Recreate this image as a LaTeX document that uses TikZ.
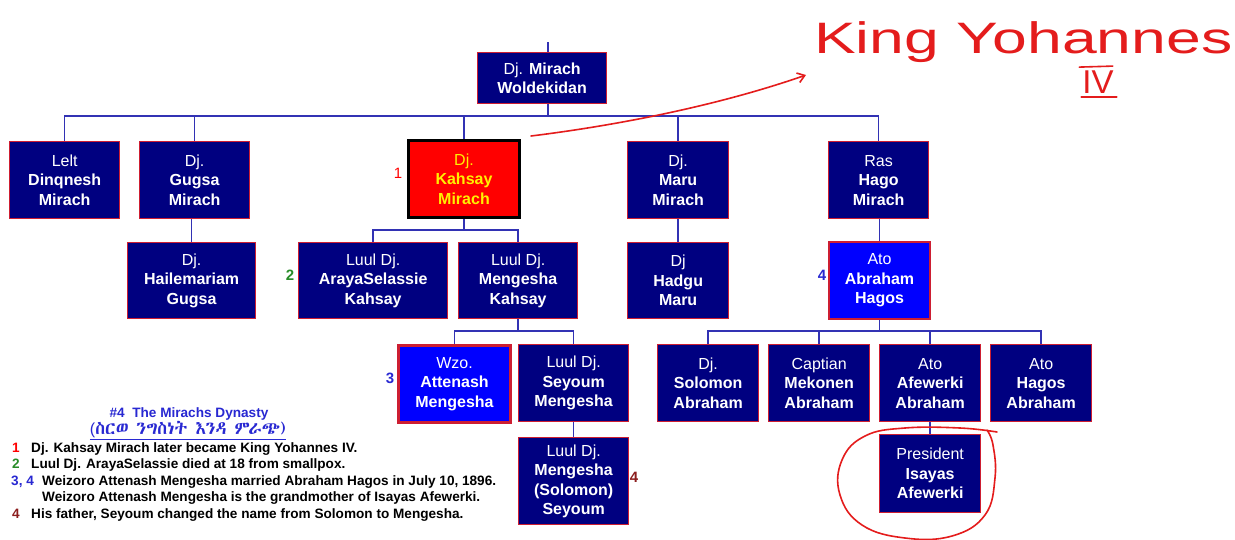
\documentclass[tikz,border=0pt]{standalone}
\usepackage{fontspec}
\setmainfont{Liberation Sans}
\usetikzlibrary{arrows.meta,calc}
\newfontfamily\handfont[FakeStretch=1.42]{Liberation Sans}
\IfFontExistsTF{Abyssinica SIL}{\newfontfamily\ethfont{Abyssinica SIL}}{%
  \IfFontExistsTF{Noto Sans Ethiopic}{\newfontfamily\ethfont{Noto Sans Ethiopic}}{%
    \newfontfamily\ethfont{FreeSerif.otf}}}
\definecolor{navy}{RGB}{0,0,128}
\definecolor{boxred}{RGB}{205,30,50}
\definecolor{lineblue}{RGB}{50,50,180}
\definecolor{kred}{RGB}{255,0,0}
\definecolor{kyellow}{RGB}{255,240,0}
\definecolor{bblue}{RGB}{0,0,255}
\definecolor{pen}{RGB}{228,28,28}
\definecolor{ngreen}{RGB}{40,140,40}
\definecolor{nblue}{RGB}{40,40,210}
\definecolor{ndark}{RGB}{140,30,30}
\newcommand\bx[3]{#1\\\textbf{#2}\\\textbf{#3}}
\tikzset{
  pbox/.style={draw=boxred, line width=1.3pt, fill=navy, text=white, align=center,
    font=\fontsize{16}{19.5}\selectfont, inner sep=0pt, anchor=north west},
  kbox/.style={pbox, fill=kred, draw=black, line width=3pt, text=kyellow},
  bbox/.style={pbox, fill=bblue, line width=2pt},
  sz/.style 2 args={minimum width=#1, minimum height=#2},
  conn/.style={draw=lineblue, line width=1.4pt},
  leg/.style={anchor=base west, inner sep=0pt, font=\fontsize{13.6}{15}\selectfont\bfseries},
  sidenum/.style={inner sep=0pt, font=\fontsize{15}{15}\selectfont\bfseries},
  penline/.style={draw=pen, line width=1.6pt, line cap=round}
}
\begin{document}
\begin{tikzpicture}[x=1pt,y=-1pt]
\fill[white] (0,0) rectangle (1235,539);
\useasboundingbox (0,0) rectangle (1235,539);
% boxes
\node[pbox, sz={129}{51}] (root) at (477,52) {Dj. \textbf{Mirach}\\\textbf{Woldekidan}};
\node[pbox, sz={110}{77}] (lelt) at (9,141) {\bx{Lelt}{Dinqnesh}{Mirach}};
\node[pbox, sz={110}{77}] (gugsa) at (139,141) {\bx{Dj.}{Gugsa}{Mirach}};
\node[kbox, sz={111}{77}] (kahsay) at (407,139) {\bx{Dj.}{Kahsay}{Mirach}};
\node[pbox, sz={101}{77}] (maru) at (627,141) {\bx{Dj.}{Maru}{Mirach}};
\node[pbox, sz={100}{77}] (hago) at (828,141) {\bx{Ras}{Hago}{Mirach}};
\node[pbox, sz={128}{76}] (haile) at (127,242) {\bx{Dj.}{Hailemariam}{Gugsa}};
\node[pbox, sz={149}{76}] (araya) at (298,242) {\bx{Luul Dj.}{ArayaSelassie}{Kahsay}};
\node[pbox, sz={119}{76}] (mengK) at (458,242) {\bx{Luul Dj.}{Mengesha}{Kahsay}};
\node[pbox, sz={101}{76}] (hadgu) at (627,242) {\bx{Dj}{Hadgu}{Maru}};
\node[bbox, sz={101}{77}] (abraham) at (828,241) {\bx{Ato}{Abraham}{Hagos}};
\node[bbox, line width=3pt, sz={112}{77}] (atten) at (397,344) {\bx{Wzo.}{Attenash}{Mengesha}};
\node[pbox, sz={110}{77}] (seyoum) at (518,344) {\bx{Luul Dj.}{Seyoum}{Mengesha}};
\node[pbox, sz={101}{77}] (solomon) at (657,344) {\bx{Dj.}{Solomon}{Abraham}};
\node[pbox, sz={101}{77}] (mekonen) at (768,344) {\bx{Captian}{Mekonen}{Abraham}};
\node[pbox, sz={101}{77}] (afewerki) at (879,344) {\bx{Ato}{Afewerki}{Abraham}};
\node[pbox, sz={101}{77}] (hagosA) at (990,344) {\bx{Ato}{Hagos}{Abraham}};
\node[pbox, sz={110}{87}] (mengS) at (518,437) {Luul Dj.\\\textbf{Mengesha}\\\textbf{(Solomon)}\\\textbf{Seyoum}};
\node[pbox, sz={101}{78}] (pres) at (879,434) {\bx{President}{Isayas}{Afewerki}};
% connectors
\coordinate (rtop) at (548,42);
\coordinate (y1) at (0,116);
\coordinate (y2) at (0,230);
\coordinate (y3) at (0,331);
\draw[conn] (rtop) -- (rtop |- root.north);
\draw[conn] (rtop |- root.south) -- (rtop |- y1);
\draw[conn] (lelt.north) |- (hago.north |- y1) -- (hago.north);
\foreach \n in {gugsa,kahsay,maru} \draw[conn] (\n.north) -- (\n.north |- y1);
\draw[conn] (haile.north) -- (haile.north |- gugsa.south);
\draw[conn] (kahsay.south) -- (kahsay.south |- y2);
\draw[conn] (araya.north) |- (mengK.north |- y2) -- (mengK.north);
\draw[conn] (maru.south) -- (hadgu.north);
\draw[conn] (abraham.north) -- (abraham.north |- hago.south);
\draw[conn] (mengK.south) -- (mengK.south |- y3);
\draw[conn] (atten.north) |- (seyoum.north |- y3) -- (seyoum.north);
\draw[conn] (abraham.south) -- (abraham.south |- y3);
\draw[conn] (solomon.north) |- (hagosA.north |- y3) -- (hagosA.north);
\foreach \n in {mekonen,afewerki} \draw[conn] (\n.north) -- (\n.north |- y3);
\draw[conn] (seyoum.south) -- (mengS.north);
\draw[conn] (afewerki.south) -- (pres.north);
% side numbers
\node[sidenum, text=kred, font=\fontsize{15}{15}\selectfont] (m1) at (398,173) {1};
\node[sidenum, text=ngreen] (m2) at (290,275) {2};
\node[sidenum, text=nblue] (m4a) at (822,275) {4};
\node[sidenum, text=nblue] (m3) at (390,378) {3};
\node[sidenum, text=ndark] (m4b) at (634,477) {4};
% legend
\node[anchor=base, inner sep=0pt, text=nblue, font=\fontsize{13.6}{15}\selectfont\bfseries] (title) at (189,417) {\#4\ \ The Mirachs Dynasty};
\node[anchor=base, inner sep=0pt, text=nblue, font=\fontsize{16}{18}\selectfont] (eth) at (188,434) {\underline{(\ethfont\fontsize{18}{18}\selectfont ስርወ ንግስነት እንዳ ምራጭ)}};
\node[leg, text=kred] (l1n) at (12,452) {1};
\node[leg] (l1) at (31,452) {Dj. Kahsay Mirach later became King Yohannes IV.};
\node[leg, text=ngreen] (l2n) at (12,468.5) {2};
\node[leg] (l2) at (31,468.5) {Luul Dj. ArayaSelassie died at 18 from smallpox.};
\node[leg, text=nblue] (l3n) at (11,485) {3, 4};
\node[leg] (l3) at (42,485) {Weizoro Attenash Mengesha married Abraham Hagos in July 10, 1896.};
\node[leg] (l3b) at (42,501.5) {Weizoro Attenash Mengesha is the grandmother of Isayas Afewerki.};
\node[leg, text=ndark] (l4n) at (12,518) {4};
\node[leg] (l4) at (31,518) {His father, Seyoum changed the name from Solomon to Mengesha.};
% handwriting
\node[anchor=base west, inner sep=0pt, text=pen, font=\handfont\fontsize{44}{44}\selectfont] (king) at (814,53) {King Yohannes};
\node[anchor=base, inner sep=0pt, text=pen, font=\fontsize{33}{33}\selectfont] (iv) at (1098,93) {IV};
\draw[penline] ($(iv.north west)+(-3,-3)$) -- ($(iv.north east)+(-1,-4)$);
\draw[penline] ($(iv.south west)+(-1,4)$) -- ($(iv.south east)+(3,4)$);
\coordinate (astart) at ($(kahsay.north east)+(10,-3)$);
\coordinate (aend) at (806,75);
\draw[penline, -{Straight Barb[length=7pt,width=10pt]}] (astart) .. controls (620,125) and (720,105) .. (aend);
\draw[penline] plot[smooth, tension=0.7] coordinates {(997,432) (960,428) (905,428) (865,436) (842,460) (840,495) (862,525) (905,538) (952,536) (985,515) (995,478) (993,445) (987,430)};
\end{tikzpicture}
\end{document}
